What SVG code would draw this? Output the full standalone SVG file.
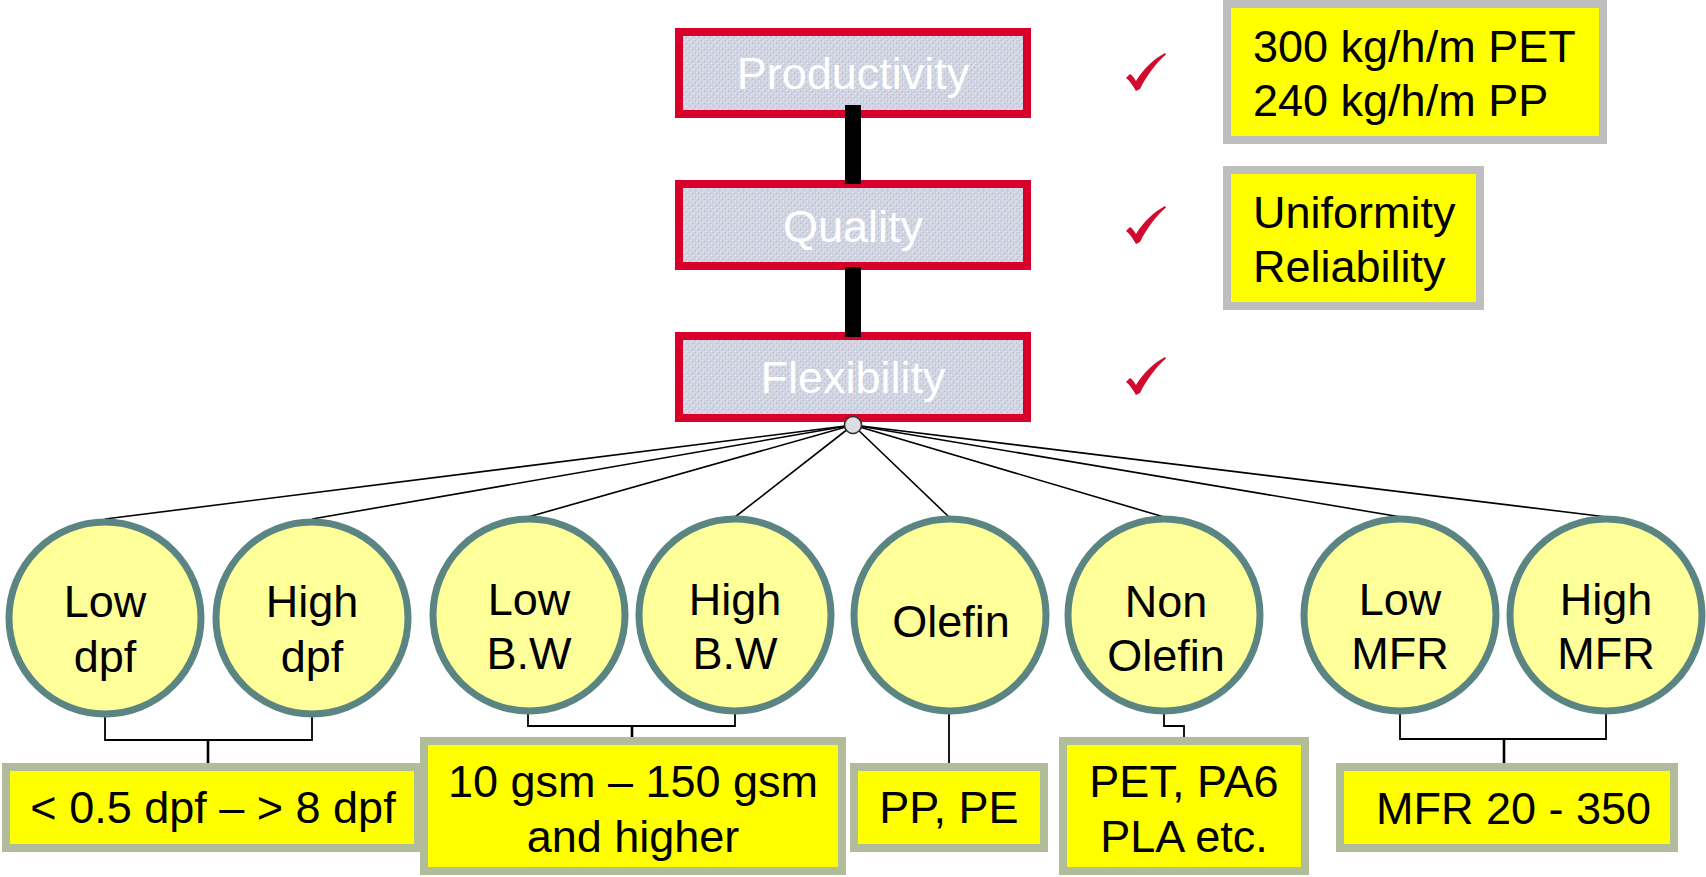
<svg xmlns="http://www.w3.org/2000/svg" width="1706" height="877" viewBox="0 0 1706 877">
<defs>
<pattern id="tex" width="6" height="6" patternUnits="userSpaceOnUse">
<rect width="6" height="6" fill="#d0d3e2"/>
<rect x="0" y="0" width="1" height="1" fill="#eef0f6"/>
<rect x="3" y="3" width="1" height="1" fill="#eef0f6"/>
<rect x="2" y="1" width="1" height="1" fill="#b5bad0"/>
<rect x="5" y="4" width="1" height="1" fill="#b5bad0"/>
<rect x="1" y="4" width="1" height="1" fill="#e4e6ef"/>
</pattern>
<path id="check" d="M0,25 L4,21 C6,22 8,25 10,28 C18,15 28,6 39,0 L40,1.5 C30,10 21,22 14,36 L10,38 C7,33 4,28 0,25 Z" fill="#d20a2e"/>
</defs>
<style>
.top{fill:url(#tex);stroke:#d6002a;stroke-width:8}
.ttxt{font-family:"Liberation Sans",Arial,sans-serif;font-size:45px;fill:#ffffff;text-anchor:middle}
.info{fill:#ffff00;stroke:#bebebe;stroke-width:8}
.val{fill:#ffff00;stroke:#b1bc9b;stroke-width:8}
.txt{font-family:"Liberation Sans",Arial,sans-serif;font-size:45px;fill:#000000}
.mid{text-anchor:middle}
.circ{fill:#ffff99;stroke:#5b8583;stroke-width:7}
.fan{stroke:#000;stroke-width:1.6;fill:none}
.br{stroke:#000;stroke-width:1.8;fill:none}
.brm{stroke:#000;stroke-width:2.6;fill:none}
</style>

<g id="productivity">
<rect class="top" x="679" y="32" width="348" height="82"/>
<text class="ttxt" x="853" y="89">Productivity</text>
</g>
<g id="quality">
<rect class="top" x="679" y="184" width="348" height="82"/>
<text class="ttxt" x="853" y="242">Quality</text>
</g>
<g id="flexibility">
<rect class="top" x="679" y="336" width="348" height="82"/>
<text class="ttxt" x="853" y="393">Flexibility</text>
</g>

<g id="checks">
<use href="#check" x="1126" y="53"/>
<use href="#check" x="1126" y="206"/>
<use href="#check" x="1126" y="357"/>
</g>

<g id="info-productivity">
<rect class="info" x="1227" y="4" width="376" height="136"/>
<text class="txt" x="1253" y="62">300 kg/h/m PET</text>
<text class="txt" x="1253" y="116">240 kg/h/m PP</text>
</g>
<g id="info-quality">
<rect class="info" x="1227" y="170" width="253" height="136"/>
<text class="txt" x="1253" y="228">Uniformity</text>
<text class="txt" x="1253" y="282">Reliability</text>
</g>

<g id="connectors">
<rect x="845" y="105" width="16" height="79" fill="#000"/>
<rect x="845" y="267" width="16" height="70" fill="#000"/>
<line class="fan" x1="853" y1="425" x2="105" y2="519"/>
<line class="fan" x1="853" y1="425" x2="312" y2="519"/>
<line class="fan" x1="853" y1="425" x2="528" y2="517"/>
<line class="fan" x1="853" y1="425" x2="735" y2="517"/>
<line class="fan" x1="853" y1="425" x2="949" y2="517"/>
<line class="fan" x1="853" y1="425" x2="1164" y2="517"/>
<line class="fan" x1="853" y1="425" x2="1401" y2="517"/>
<line class="fan" x1="853" y1="425" x2="1607" y2="517"/>
<polyline class="br" points="105,717 105,740 312,740 312,717"/>
<line class="brm" x1="208" y1="740" x2="208" y2="764"/>
<polyline class="br" points="528,713 528,726 735,726 735,713"/>
<line class="brm" x1="632" y1="726" x2="632" y2="738"/>
<line class="br" x1="949" y1="713" x2="949" y2="764"/>
<polyline class="br" points="1164,713 1164,726 1184,726 1184,738"/>
<polyline class="br" points="1400,713 1400,739 1606,739 1606,713"/>
<line class="brm" x1="1504" y1="739" x2="1504" y2="764"/>
<circle cx="853" cy="425" r="8.5" fill="#dcdce4" stroke="#333" stroke-width="1.6"/>
</g>

<g id="low-dpf">
<circle class="circ" cx="105" cy="618" r="96"/>
<text class="txt mid" x="105" y="617">Low</text>
<text class="txt mid" x="105" y="672">dpf</text>
</g>
<g id="high-dpf">
<circle class="circ" cx="312" cy="618" r="96"/>
<text class="txt mid" x="312" y="617">High</text>
<text class="txt mid" x="312" y="672">dpf</text>
</g>
<g id="low-bw">
<circle class="circ" cx="529" cy="615" r="96"/>
<text class="txt mid" x="529" y="615">Low</text>
<text class="txt mid" x="529" y="669">B.W</text>
</g>
<g id="high-bw">
<circle class="circ" cx="735" cy="615" r="96"/>
<text class="txt mid" x="735" y="615">High</text>
<text class="txt mid" x="735" y="669">B.W</text>
</g>
<g id="olefin">
<circle class="circ" cx="950" cy="615" r="96"/>
<text class="txt mid" x="951" y="637">Olefin</text>
</g>
<g id="non-olefin">
<circle class="circ" cx="1164" cy="615" r="96"/>
<text class="txt mid" x="1166" y="617">Non</text>
<text class="txt mid" x="1166" y="671">Olefin</text>
</g>
<g id="low-mfr">
<circle class="circ" cx="1400" cy="615" r="96"/>
<text class="txt mid" x="1400" y="615">Low</text>
<text class="txt mid" x="1400" y="669">MFR</text>
</g>
<g id="high-mfr">
<circle class="circ" cx="1606" cy="615" r="96"/>
<text class="txt mid" x="1606" y="615">High</text>
<text class="txt mid" x="1606" y="669">MFR</text>
</g>

<g id="dpf-range">
<rect class="val" x="6" y="767" width="412" height="81"/>
<text class="txt mid" x="213" y="823">&lt; 0.5 dpf – &gt; 8 dpf</text>
</g>
<g id="bw-range">
<rect class="val" x="424" y="741" width="418" height="130"/>
<text class="txt mid" x="633" y="797">10 gsm – 150 gsm</text>
<text class="txt mid" x="633" y="852">and higher</text>
</g>
<g id="olefin-types">
<rect class="val" x="854" y="767" width="190" height="81"/>
<text class="txt mid" x="949" y="823">PP, PE</text>
</g>
<g id="non-olefin-types">
<rect class="val" x="1063" y="741" width="242" height="130"/>
<text class="txt mid" x="1184" y="797">PET, PA6</text>
<text class="txt mid" x="1184" y="852">PLA etc.</text>
</g>
<g id="mfr-range">
<rect class="val" x="1340" y="767" width="334" height="81"/>
<text class="txt" x="1376" y="824">MFR 20 - 350</text>
</g>
</svg>
